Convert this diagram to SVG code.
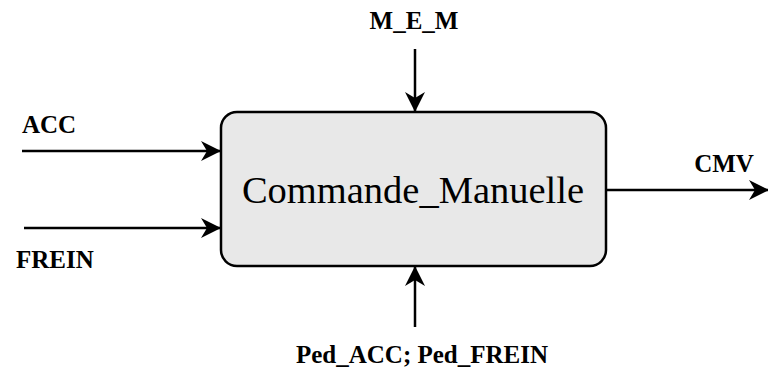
<svg xmlns="http://www.w3.org/2000/svg" width="768" height="372" viewBox="0 0 768 372">
<style>
.lbl{font-family:"Liberation Serif","Times New Roman",serif;font-weight:bold;font-size:25px;fill:#000}
.main{font-family:"Liberation Serif","Times New Roman",serif;font-size:38.5px;fill:#000}
.wire{stroke:#000;stroke-width:2.5;fill:none;marker-end:url(#arr)}
</style>
<defs>
<marker id="arr" markerUnits="userSpaceOnUse" markerWidth="22" markerHeight="22" viewBox="0 0 22 22" refX="20" refY="11" orient="auto">
<path d="M1,1 L21,11 L1,21 L7,11 Z" fill="#000"/>
</marker>
</defs>
<g id="node-commande">
<rect x="221" y="112" width="385" height="154" rx="16" ry="16" fill="#e8e8e8" stroke="#000" stroke-width="2.5"/>
<text class="main" x="413" y="203" text-anchor="middle">Commande_Manuelle</text>
</g>
<g id="connectors">
<line class="wire" x1="22" y1="151" x2="220" y2="151"/>
<line class="wire" x1="24" y1="228" x2="220" y2="228"/>
<line class="wire" x1="415" y1="49" x2="415" y2="111"/>
<line class="wire" x1="415" y1="327" x2="415" y2="267"/>
<line class="wire" x1="606" y1="190" x2="768" y2="190"/>
</g>
<g id="labels">
<text class="lbl" x="414" y="29" text-anchor="middle">M_E_M</text>
<text class="lbl" x="22" y="133">ACC</text>
<text class="lbl" x="16" y="268">FREIN</text>
<text class="lbl" x="724" y="172" text-anchor="middle">CMV</text>
<text class="lbl" x="422" y="363" text-anchor="middle">Ped_ACC; Ped_FREIN</text>
</g>
</svg>
